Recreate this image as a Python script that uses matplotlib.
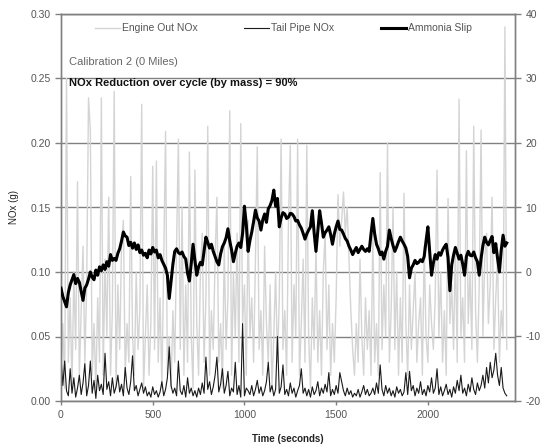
import numpy as np
import matplotlib
matplotlib.use("Agg")
import matplotlib.pyplot as plt

plt.rcParams['font.family'] = ['Liberation Sans', 'DejaVu Sans']

# time base: one sample every 10 seconds
time_step = 10

engine_out_nox = [
    0.02, 0.06, 0.01, 0.25, 0.03, 0.08, 0.01, 0.10, 0.04, 0.17,
    0.02, 0.07, 0.12, 0.03, 0.09, 0.235, 0.21, 0.02, 0.06, 0.01,
    0.08, 0.03, 0.235, 0.02, 0.11, 0.05, 0.158, 0.02, 0.07, 0.24,
    0.01, 0.09, 0.04, 0.12, 0.14, 0.02, 0.06, 0.03, 0.174, 0.05,
    0.02, 0.10, 0.04, 0.07, 0.23, 0.01, 0.05, 0.09, 0.02, 0.06,
    0.182, 0.04, 0.186, 0.03, 0.08, 0.01, 0.11, 0.209, 0.02, 0.05,
    0.01, 0.07, 0.03, 0.12, 0.203, 0.04, 0.15, 0.02, 0.09, 0.03,
    0.193, 0.05, 0.01, 0.179, 0.06, 0.02, 0.10, 0.13, 0.03, 0.08,
    0.213, 0.02, 0.07, 0.04, 0.11, 0.158, 0.03, 0.06, 0.01, 0.12,
    0.04, 0.08, 0.225, 0.02, 0.10, 0.05, 0.13, 0.03, 0.215, 0.06,
    0.09, 0.02, 0.14, 0.05, 0.08, 0.03, 0.11, 0.197, 0.04, 0.07,
    0.02, 0.12, 0.06, 0.03, 0.09, 0.01, 0.05, 0.10, 0.03, 0.08,
    0.203, 0.04, 0.07, 0.02, 0.14, 0.198, 0.03, 0.09, 0.05, 0.203,
    0.02, 0.06, 0.11, 0.03, 0.198, 0.05, 0.01, 0.08, 0.04, 0.12,
    0.03, 0.07, 0.02, 0.10, 0.13, 0.04, 0.09, 0.02, 0.06, 0.03,
    0.08, 0.16, 0.12, 0.14, 0.162, 0.13, 0.15, 0.11, 0.07, 0.04,
    0.02, 0.06, 0.03, 0.11, 0.05, 0.02, 0.08, 0.04, 0.07, 0.02,
    0.13, 0.03, 0.06, 0.02, 0.177, 0.04, 0.09, 0.05, 0.20, 0.03,
    0.07, 0.15, 0.04, 0.10, 0.02, 0.08, 0.03, 0.161, 0.06, 0.02,
    0.09, 0.04, 0.07, 0.10, 0.03, 0.06, 0.08, 0.02, 0.12, 0.05,
    0.03, 0.09, 0.06, 0.04, 0.08, 0.179, 0.05, 0.10, 0.03, 0.07,
    0.02, 0.157, 0.06, 0.09, 0.04, 0.12, 0.03, 0.234, 0.05, 0.08,
    0.03, 0.194, 0.06, 0.10, 0.04, 0.213, 0.07, 0.03, 0.09, 0.21,
    0.05, 0.11, 0.13, 0.06, 0.09, 0.158, 0.04, 0.08, 0.11, 0.03,
    0.07, 0.05, 0.29, 0.04,
]

tail_pipe_nox = [
    0.034, 0.012, 0.031, 0.008, 0.004, 0.025, 0.006, 0.018, 0.003, 0.010,
    0.020, 0.005, 0.014, 0.029, 0.004, 0.012, 0.031, 0.006, 0.016, 0.002,
    0.020, 0.008, 0.013, 0.005, 0.037, 0.009, 0.015, 0.004, 0.018, 0.006,
    0.011, 0.020, 0.007, 0.013, 0.004, 0.026, 0.010, 0.005, 0.015, 0.035,
    0.008, 0.012, 0.004, 0.009, 0.014, 0.006, 0.011, 0.004, 0.007, 0.003,
    0.011, 0.005, 0.008, 0.003, 0.007, 0.015, 0.004, 0.009, 0.018, 0.042,
    0.012, 0.006, 0.010, 0.004, 0.031, 0.008, 0.005, 0.012, 0.003, 0.018,
    0.006, 0.010, 0.004, 0.008, 0.003, 0.010, 0.005, 0.014, 0.006, 0.034,
    0.009, 0.015, 0.005, 0.011, 0.020, 0.034, 0.007, 0.013, 0.025, 0.006,
    0.012, 0.023, 0.004, 0.010, 0.007, 0.030, 0.005, 0.012, 0.003, 0.060,
    0.004, 0.010, 0.008, 0.005, 0.012, 0.004, 0.009, 0.016, 0.006, 0.011,
    0.004, 0.008, 0.015, 0.030, 0.007, 0.012, 0.004, 0.009, 0.050, 0.006,
    0.011, 0.028, 0.005, 0.009, 0.004, 0.014, 0.006, 0.010, 0.003, 0.008,
    0.012, 0.025, 0.006, 0.010, 0.004, 0.009, 0.003, 0.011, 0.005, 0.008,
    0.015, 0.004, 0.010, 0.006, 0.013, 0.007, 0.022, 0.004, 0.009, 0.005,
    0.012, 0.006, 0.022, 0.015, 0.008, 0.004, 0.010, 0.005, 0.008, 0.003,
    0.006, 0.004, 0.009, 0.003, 0.007, 0.012, 0.005, 0.009, 0.004, 0.006,
    0.010, 0.005, 0.014, 0.006, 0.028, 0.009, 0.004, 0.012, 0.006, 0.010,
    0.004, 0.008, 0.003, 0.011, 0.006, 0.009, 0.004, 0.007, 0.022, 0.005,
    0.023, 0.008, 0.012, 0.004, 0.010, 0.006, 0.015, 0.005, 0.009, 0.004,
    0.012, 0.007, 0.018, 0.006, 0.010, 0.025, 0.005, 0.011, 0.004, 0.008,
    0.013, 0.005, 0.009, 0.003, 0.011, 0.006, 0.016, 0.008, 0.020, 0.006,
    0.010, 0.004, 0.013, 0.007, 0.018, 0.009, 0.005, 0.014, 0.008, 0.012,
    0.020, 0.010, 0.026, 0.014, 0.030, 0.018, 0.024, 0.037, 0.020, 0.012,
    0.026, 0.010, 0.006, 0.004,
]

ammonia_slip = [
    -2.5, -3.8, -4.6, -5.4, -3.2, -2.0, -1.2, -0.4, -1.8, -1.0,
    -1.6, -3.0, -4.4, -2.5, -2.0, -1.1, 0.0, -0.8, -1.2, 0.3,
    -0.5, 0.8, 0.2, 1.1, 0.4, 1.6, 0.9, 2.7, 1.8, 2.1,
    1.8, 2.9, 3.6, 4.8, 6.2, 5.6, 5.4, 4.1, 4.6, 3.7,
    4.5, 3.5, 4.2, 3.0, 3.4, 2.6, 2.9, 2.2, 3.4, 2.8,
    3.8, 3.1, 3.4, 2.2, 2.7, 1.8, 1.2, 0.6, -0.5, -4.1,
    -1.5, 1.2, 3.2, 3.6, 3.0, 2.8, 3.1, 2.4, 2.0, -0.2,
    -1.4, 1.3, 4.3, 1.8, -0.5, 0.8, 1.5, 1.1, 3.2, 5.4,
    4.6, 3.7, 4.3, 3.2, 2.4, 1.6, 1.1, 2.8, 3.9, 4.5,
    5.3, 6.7, 4.8, 3.4, 1.6, 2.9, 4.0, 4.5, 3.8, 6.0,
    10.2, 7.4, 3.2, 4.9, 6.2, 7.8, 9.6, 8.4, 7.9, 6.5,
    8.1, 9.0, 7.7, 9.8, 10.3, 11.1, 12.7, 10.2, 11.4, 7.0,
    8.4, 9.2, 9.0, 8.3, 8.5, 9.1, 9.0, 8.6, 7.9, 8.0,
    7.3, 6.8, 6.0, 5.1, 5.9, 6.5, 7.0, 9.5, 6.1, 3.2,
    6.4, 9.5, 7.6, 5.4, 6.1, 6.5, 7.0, 5.8, 4.3, 5.9,
    7.0, 7.9, 6.6, 6.5, 5.9, 5.2, 4.8, 4.0, 3.4, 2.7,
    3.3, 3.8, 3.0, 3.5, 4.0, 3.5, 3.2, 3.6, 3.2, 5.9,
    8.3, 5.9, 4.3, 3.6, 2.7, 3.1, 2.0, 3.2, 4.0, 6.5,
    5.2, 4.1, 3.2, 3.9, 4.7, 5.4, 4.8, 4.3, 3.7, 2.4,
    -0.9, 0.6, 1.1, 1.8, 1.3, 1.5, 1.9, 1.6, 2.4, 4.8,
    7.0, 3.1, -0.5, 1.4, 2.7, 2.0, 3.0, 2.6, 3.4, 3.9,
    4.3, 2.2, -2.9, 1.1, 2.6, 3.8, 2.9, 2.0, 2.6, 1.2,
    -0.5, 2.4, 3.2, 2.6, 2.5, 3.1, 2.2, 1.6, -0.5, 2.1,
    4.1, 5.4, 4.6, 4.2, 4.9, 5.5, 3.0, 4.4, 2.1, 0.0,
    3.4, 5.7, 4.0, 4.5,
]

x_ticks = [0, 500, 1000, 1500, 2000]
left_ticks = [0.00, 0.05, 0.10, 0.15, 0.20, 0.25, 0.30]
right_ticks = [-20, -10, 0, 10, 20, 30, 40]

t = np.arange(len(ammonia_slip)) * time_step

fig = plt.figure(figsize=(5.47, 4.48), dpi=100)
ax = fig.add_axes([61/547, 1 - 401/448, (515 - 61)/547, (401 - 14)/448])
ax2 = ax.twinx()

tick_col = '#555555'
grid_col = '#808080'

l1, = ax.plot(t, engine_out_nox, color='#d4d4d4', lw=1.0, label='Engine Out NOx', zorder=2)
l2, = ax.plot(t, tail_pipe_nox, color='#1a1a1a', lw=0.8, label='Tail Pipe NOx', zorder=3)
l3, = ax2.plot(t, ammonia_slip, color='black', lw=2.2, label='Ammonia Slip', zorder=4)

ax.set_xlim(0, 2475)
ax.set_ylim(0, 0.30)
ax2.set_ylim(-20, 40)
ax.set_xticks(x_ticks)
ax.set_xticklabels([str(v) for v in x_ticks])
ax.set_yticks(left_ticks)
ax.set_yticklabels(['%.2f' % v for v in left_ticks])
ax2.set_yticks(right_ticks)
ax2.set_yticklabels([str(v) for v in right_ticks])

ax.grid(axis='y', color=grid_col, lw=1.0, zorder=1)
ax.set_axisbelow(True)

for a in (ax, ax2):
    for s in a.spines.values():
        s.set_color(grid_col)
        s.set_linewidth(1.0)
    a.tick_params(colors=grid_col, labelcolor=tick_col, labelsize=7.5, length=4, width=1, direction='out')
ax.tick_params(axis='x', length=3)

ax.set_ylabel('NOx (g)', fontsize=7, color='#222222', labelpad=8)
ax.set_xlabel('Time (seconds)', fontsize=7, fontweight='bold', color='#222222', labelpad=10)

ax.text(0.018, 0.875, 'Calibration 2 (0 Miles)', transform=ax.transAxes, fontsize=8,
        color='#666666', va='center', ha='left')
ax.text(0.018, 0.822, 'NOx Reduction over cycle (by mass) = 90%', transform=ax.transAxes,
        fontsize=8, fontweight='bold', color='#111111', va='center', ha='left')

leg = ax2.legend(handles=[l1, l2, l3], loc='center', bbox_to_anchor=(0.49, 0.963), ncol=3,
                 frameon=False, fontsize=7.5, columnspacing=4.5, handlelength=2.4,
                 handletextpad=0.2)
for txt in leg.get_texts():
    txt.set_color('#555555')

fig.savefig('out.png', dpi=100)
